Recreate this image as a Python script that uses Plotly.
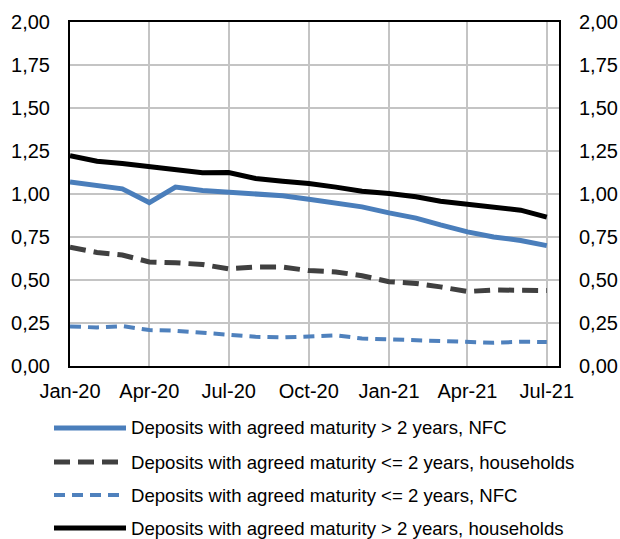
import plotly.graph_objects as go

# monthly observations, Jan-20 .. Jul-21
months = [
    "2020-01-01", "2020-02-01", "2020-03-01", "2020-04-01", "2020-05-01",
    "2020-06-01", "2020-07-01", "2020-08-01", "2020-09-01", "2020-10-01",
    "2020-11-01", "2020-12-01", "2021-01-01", "2021-02-01", "2021-03-01",
    "2021-04-01", "2021-05-01", "2021-06-01", "2021-07-01",
]

nfc_long = [1.07, 1.05, 1.03, 0.95, 1.04, 1.02, 1.01, 1.00, 0.99, 0.97,
            0.945, 0.925, 0.89, 0.86, 0.82, 0.78, 0.75, 0.73, 0.70]
hh_short = [0.69, 0.66, 0.645, 0.605, 0.60, 0.59, 0.565, 0.575, 0.575, 0.555,
            0.547, 0.525, 0.49, 0.48, 0.46, 0.433, 0.442, 0.44, 0.439]
nfc_short = [0.23, 0.224, 0.232, 0.209, 0.205, 0.195, 0.182, 0.17, 0.166, 0.172,
             0.178, 0.16, 0.155, 0.155, 0.147, 0.141, 0.135, 0.141, 0.139]
hh_long = [1.223, 1.19, 1.177, 1.158, 1.146, 1.123, 1.125, 1.09, 1.074, 1.061,
           1.04, 1.016, 1.003, 0.984, 0.958, 0.939, 0.92, 0.906, 0.866]

series_names = [
    "Deposits with agreed maturity > 2 years, NFC",
    "Deposits with agreed maturity <= 2 years, households",
    "Deposits with agreed maturity <= 2 years, NFC",
    "Deposits with agreed maturity > 2 years, households",
]

FONT = "Liberation Sans, Arial, sans-serif"
styles = [
    dict(color="#4A7EBB", width=5, dash="solid"),
    dict(color="#404040", width=5, dash="16px,8px"),
    dict(color="#4F81BD", width=4, dash="11px,7px"),
    dict(color="#000000", width=5, dash="solid"),
]
values = [nfc_long, hh_short, nfc_short, hh_long]
# last series sits on the secondary (right) axis, same scale
axes = ["y", "y", "y", "y2"]

fig = go.Figure()
for name, vals, st, ax in zip(series_names, values, styles, axes):
    fig.add_trace(go.Scatter(x=months, y=vals, name=name, mode="lines",
                             line=st, showlegend=False, yaxis=ax))

W, H = 620, 539
plot_l, plot_r, plot_t, plot_b = 70, 559, 22, 366
plot_w, plot_h = plot_r - plot_l, plot_b - plot_t

def px(x):
    return (x - plot_l) / plot_w

def py(y):
    return (plot_b - y) / plot_h

# hand-made legend below the plot (paper coords)
rows_y = [428, 462, 495, 528]
for name, st, ry in zip(series_names, styles, rows_y):
    fig.add_shape(type="line", xref="paper", yref="paper",
                  x0=px(54), x1=px(126), y0=py(ry), y1=py(ry),
                  line=dict(color=st["color"], width=st["width"], dash=st["dash"]))
    fig.add_annotation(text=name, xref="paper", yref="paper",
                       x=px(129), y=py(ry), xanchor="left", yanchor="middle",
                       showarrow=False, font=dict(size=18.6, color="#000000", family=FONT))

yax = dict(range=[0, 2], dtick=0.25, tick0=0, tickformat=".2f",
           showline=True, linecolor="#000000", linewidth=2,
           ticks="", tickfont=dict(size=20, family=FONT, color="#000000"),
           ticklabelstandoff=14, zeroline=False, fixedrange=True, automargin=False)

fig.update_layout(
    width=W, height=H,
    margin=dict(l=plot_l, r=W - plot_r, t=plot_t, b=H - plot_b),
    paper_bgcolor="white", plot_bgcolor="white",
    separators=", ",
    font=dict(family=FONT, color="#000000"),
    xaxis=dict(type="date", range=["2020-01-01", "2021-07-15"],
               tick0="2020-01-01", dtick="M3", tickformat="%b-%y",
               showgrid=True, gridcolor="#C4C4C4", gridwidth=2,
               showline=True, linecolor="#000000", linewidth=2, mirror=True,
               ticks="", ticklabelstandoff=6, automargin=False,
               tickfont=dict(size=20, family=FONT, color="#000000")),
    yaxis=dict(**yax, showgrid=True, gridcolor="#C4C4C4", gridwidth=2, side="left"),
    yaxis2=dict(**yax, showgrid=False, overlaying="y", side="right", anchor="x"),
)

# drop the default page margin so the 620x539 figure fills the window exactly
fig.write_html("out.html",
               config={"displayModeBar": False},
               post_script="document.body.style.margin='0';"
                           "document.body.style.overflow='hidden';")
